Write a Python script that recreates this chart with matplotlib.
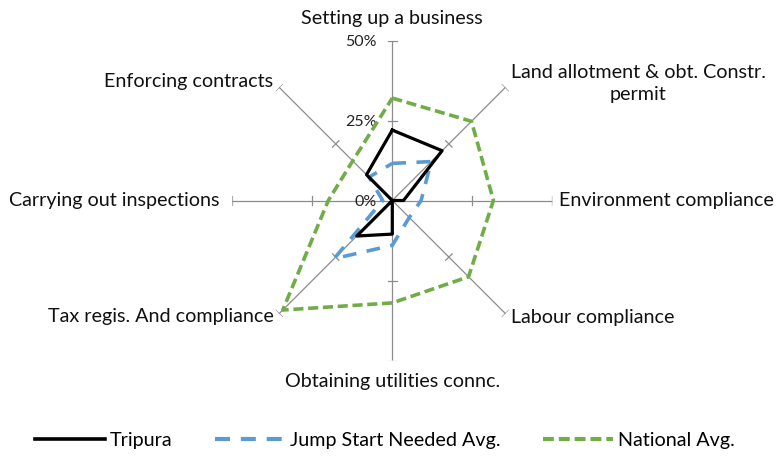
import numpy as np
import matplotlib
matplotlib.use("Agg")
import matplotlib.pyplot as plt
from matplotlib.lines import Line2D

plt.rcParams['font.family'] = ['Lato', 'DejaVu Sans']

# categories, clockwise from the top
categories = ['Setting up a business', 'Land allotment & obt. Constr.\npermit',
              'Environment compliance', 'Labour compliance',
              'Obtaining utilities connc.', 'Tax regis. And compliance',
              'Carrying out inspections', 'Enforcing contracts']

# values in percent
tripura = [22, 22, 3.5, 0, 10.5, 15.7, 0, 11.4]
jump_start = [11.6, 17.2, 9, 7.5, 14, 25.7, 3, 10.3]
national = [32, 35, 31.6, 33.7, 32, 48.4, 20, 17.5]

r_ticks = [0, 25, 50]
r_tick_labels = ['0%', '25%', '50%']

# label offsets (points) from the end of each spoke
label_offsets = [(0, 16), (4, 3), (5, 0), (4, -3), (0, -15), (-4, -2), (-9, 0), (-4, 4)]
label_ha = ['center', 'left', 'left', 'left', 'center', 'right', 'right', 'right']

axis_grey = '#8c8c8c'

fig = plt.figure(figsize=(7.77, 4.57), dpi=100)
cx, cy, rad = 392.3 / 777, 1 - 200.5 / 457, 160.0
ax = fig.add_axes([cx - rad / 777, cy - rad / 457, 2 * rad / 777, 2 * rad / 457],
                  projection='polar')
ax.set_theta_zero_location('N')
ax.set_theta_direction(-1)
ax.set_ylim(0, 50)
ax.axis('off')

n = len(categories)
angles = np.arange(n) * 2 * np.pi / n

# spokes and their tick marks
half = 50 / rad * 4.5
for a in angles:
    ax.plot([a, a], [0, 50], color=axis_grey, lw=0.9, zorder=1)
    for r in r_ticks[1:]:
        d = np.arctan(half / r)
        ax.plot([a - d, a + d], [np.hypot(r, half)] * 2, color=axis_grey, lw=0.9, zorder=1)

for r, lab in zip(r_ticks, r_tick_labels):
    ax.annotate(lab, xy=(0, r), xytext=(-11, -1), textcoords='offset points',
                ha='right', va='center', fontsize=11.5, color='#222222')

for a, lab, off, ha in zip(angles, categories, label_offsets, label_ha):
    ax.annotate(lab, xy=(a, 50), xytext=off, textcoords='offset points',
                ha=ha, va='center', multialignment='center', fontsize=14.2,
                linespacing=1.35, color='#111111', annotation_clip=False)


def closed(vals):
    return np.append(angles, angles[0]), np.append(vals, vals[0])


t, v = closed(national)
ax.plot(t, v, color='#70ad47', lw=2.6, dashes=(2.8, 1.3), zorder=3)
t, v = closed(jump_start)
ax.plot(t, v, color='#5b9bd5', lw=2.6, dashes=(3.8, 2.9), zorder=3)
t, v = closed(tripura)
ax.plot(t, v, color='black', lw=2.3, zorder=4)

handles = [Line2D([], [], color='black', lw=2.6),
           Line2D([], [], color='#5b9bd5', lw=3.0, dashes=(3.6, 2.6)),
           Line2D([], [], color='#70ad47', lw=3.0, dashes=(2.6, 1.2))]
fig.legend(handles, ['Tripura', 'Jump Start Needed Avg.', 'National Avg.'],
           loc='center left', bbox_to_anchor=(35 / 777, 0.037), ncol=3, frameon=False,
           fontsize=14.2, handlelength=3.55, handletextpad=0.25, columnspacing=2.15,
           borderpad=0, borderaxespad=0)

fig.savefig('out.png', dpi=100, facecolor='white')
